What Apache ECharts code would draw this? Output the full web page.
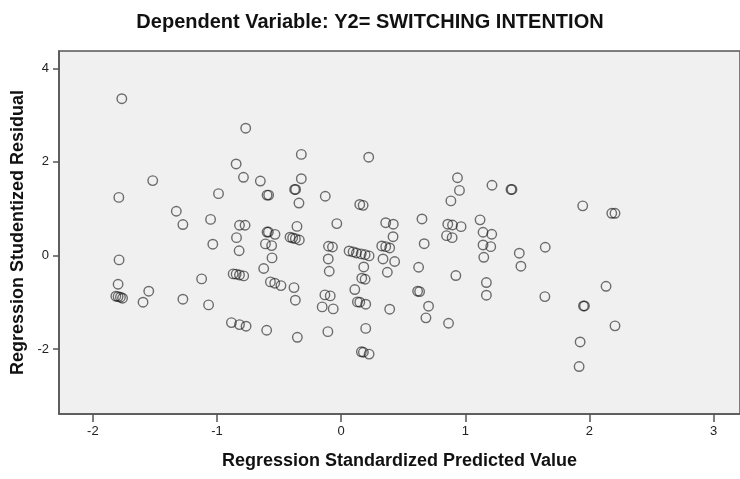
<!DOCTYPE html>
<html>
<head>
<meta charset="utf-8">
<script src="https://cdn.jsdelivr.net/npm/echarts@6/dist/echarts.min.js"></script>
<style>
  html, body { margin: 0; padding: 0; background: #fff; }
  #chart { width: 740px; height: 479px; }
</style>
</head>
<body>
<div id="chart"></div>
<script>
// residual scatter, values
const predicted = [
  -1.767, -0.769, -0.846, -1.518, -0.787, -0.651, -1.791, -0.988, -0.597, -0.584,
  -1.328, -1.052, -1.275, -0.819, -0.774, -0.843, -1.034, -0.822, -0.597, -0.586,
  -0.533, -0.61, -0.56, -0.557, -1.789, -0.624, -0.87, -0.846, -0.819, -0.785,
  -1.124, -1.797, -0.57, -0.535, -0.485, -1.55, -1.815, -1.797, -1.778, -1.761,
  -1.275, -1.596, -1.068, -0.884, -0.819, -0.766, -0.6, -0.321, 0.222, -0.321,
  0.937, -0.375, -0.367, 0.953, 1.215, 1.368, 1.376, -0.128, -0.34, 0.15,
  0.177, 0.884, 0.651, -0.035, 0.359, 0.42, 0.859, 0.897, 0.966, 1.119,
  -0.356, -0.412, -0.391, -0.369, -0.337, -0.102, -0.07, -0.104, -0.096, 0.064,
  0.096, 0.123, 0.161, 0.193, 0.225, 0.182, 0.166, 0.193, 0.11, 0.131,
  0.15, 0.198, 0.198, 0.163, 0.179, 0.225, 0.327, 0.359, 0.391, 0.418,
  0.337, 0.431, 0.372, 0.391, 0.669, 0.624, 0.616, 0.632, 0.704, 0.683,
  0.865, 0.849, 0.894, 0.924, 1.143, 1.213, 1.143, 1.205, 1.149, 1.17,
  1.17, -0.353, -0.107, -0.38, -0.369, -0.131, -0.088, -0.153, -0.064, 1.946,
  2.18, 2.206, 1.435, 1.644, 1.448, 1.641, 2.134, 1.952, 1.96, 2.206,
  1.925, 1.917
]
const residual = [
  3.35, 2.72, 1.955, 1.6, 1.67, 1.59, 1.24, 1.32, 1.29, 1.29,
  0.944, 0.77, 0.66, 0.645, 0.645, 0.38, 0.24, 0.1, 0.5, 0.5,
  0.45, 0.246, 0.21, -0.053, -0.096, -0.28, -0.395, -0.4, -0.417, -0.438,
  -0.502, -0.616, -0.566, -0.594, -0.645, -0.765, -0.872, -0.88, -0.893, -0.915,
  -0.936, -1.0, -1.058, -1.436, -1.479, -1.513, -1.6, 2.16, 2.1, 1.64,
  1.66, 1.41, 1.41, 1.39, 1.5, 1.41, 1.41, 1.265, 1.12, 1.09,
  1.07, 1.165, 0.78, 0.68, 0.7, 0.667, 0.667, 0.65, 0.615, 0.76,
  0.62, 0.389, 0.374, 0.359, 0.33, 0.196, 0.18, -0.075, -0.338, 0.096,
  0.075, 0.053, 0.032, 0.017, -0.01, -0.246, -0.487, -0.509, -0.73, -0.994,
  -1.0, -1.043, -1.56, -2.06, -2.07, -2.11, 0.203, 0.188, 0.16, 0.4,
  -0.075, -0.13, -0.36, -1.15, 0.25, -0.253, -0.765, -0.773, -1.085, -1.335,
  -1.45, 0.423, 0.38, -0.43, 0.495, 0.453, 0.224, 0.188, -0.04, -0.58,
  -0.85, -1.75, -1.63, -0.688, -0.957, -0.844, -0.865, -1.1, -1.143, 1.06,
  0.9, 0.9, 0.047, 0.175, -0.23, -0.88, -0.66, -1.08, -1.08, -1.506,
  -1.85, -2.376
]
const xTicks = [-2, -1, 0, 1, 2, 3]
const yTicks = [-2, 0, 2, 4]

const myChart = echarts.init(document.getElementById('chart'))
myChart.setOption({
  animation: false,
  textStyle: { fontFamily: 'Liberation Sans' },
  title: {
    text: 'Dependent Variable: Y2= SWITCHING INTENTION',
    left: 'center',
    top: 7,
    textStyle: { fontSize: 20, fontWeight: 'bold', color: '#111' }
  },
  grid: {
    left: 59, right: -2, top: 51, bottom: 65,
    show: true,
    backgroundColor: '#f0f0f0',
    borderColor: '#555',
    borderWidth: 1.5
  },
  xAxis: {
    type: 'value',
    min: -2.273, max: 3.213,
    name: 'Regression Standardized Predicted Value',
    nameLocation: 'middle',
    nameGap: 38,
    nameTextStyle: { fontSize: 18, fontWeight: 'bold', color: '#111' },
    splitLine: { show: false },
    axisLine: { show: true, onZero: false, lineStyle: { color: '#555', width: 1.5 } },
    axisTick: { show: true, length: 8, customValues: xTicks, lineStyle: { color: '#555', width: 1.5 } },
    axisLabel: { customValues: xTicks, fontSize: 13, color: '#222', margin: 11 }
  },
  yAxis: {
    type: 'value',
    min: -3.39, max: 4.37,
    name: 'Regression Studentized Residual',
    nameLocation: 'middle',
    nameGap: 26,
    nameTextStyle: { fontSize: 18, fontWeight: 'bold', color: '#111' },
    splitLine: { show: false },
    axisLine: { show: true, onZero: false, lineStyle: { color: '#555', width: 1.5 } },
    axisTick: { show: true, length: 6, customValues: yTicks, lineStyle: { color: '#555', width: 1.5 } },
    axisLabel: { customValues: yTicks, fontSize: 13, color: '#222', margin: 10 }
  },
  series: [
    {
      type: 'scatter',
      symbol: 'circle',
      symbolSize: 9.5,
      data: predicted.map((x, i) => [x, residual[i]]),
      itemStyle: {
        color: 'rgba(0,0,0,0)',
        borderColor: 'rgba(20,20,20,0.75)',
        borderWidth: 1.4
      }
    }
  ]
})
</script>
</body>
</html>
